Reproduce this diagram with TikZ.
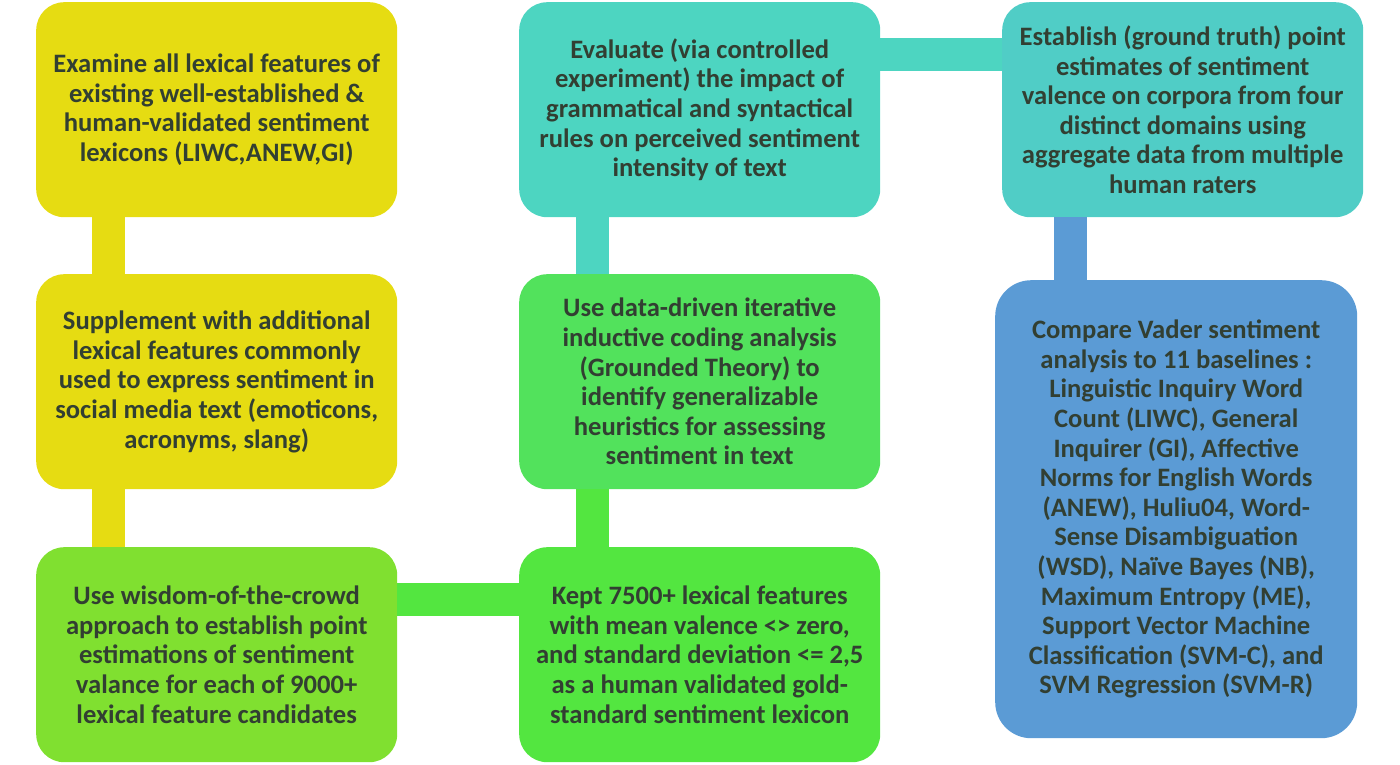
\documentclass[tikz,border=0pt]{standalone}
\usepackage{fontspec}
\setmainfont{Carlito}
\definecolor{ycol}{HTML}{E6DC12}
\definecolor{ygcol}{HTML}{80E030}
\definecolor{gcol}{HTML}{53E640}
\definecolor{gtcol}{HTML}{52E25C}
\definecolor{tcol}{HTML}{4DD5C1}
\definecolor{tbcol}{HTML}{50CDC6}
\definecolor{bcol}{HTML}{5B9BD5}
\definecolor{txtcol}{HTML}{323F32}
\tikzset{
  box/.style={rectangle, rounded corners=28pt, inner sep=0pt, anchor=north west,
    minimum width=361pt, minimum height=215pt, align=center, text=txtcol,
    font=\fontsize{26.6}{29.6}\selectfont\bfseries},
  conn/.style={line width=33pt, line cap=butt}
}
\begin{document}
\begin{tikzpicture}[x=1pt,y=-1pt]
\useasboundingbox (0,0) rectangle (1400,764);
\node[box, fill=ycol] (A) at (36,2) {Examine all lexical features of\\existing well-established \&\\human-validated sentiment\\lexicons (LIWC,ANEW,GI)};
\node[box, fill=ycol] (B) at (36,274) {Supplement with additional\\lexical features commonly\\used to express sentiment in\\social media text (emoticons,\\acronyms, slang)};
\node[box, fill=ygcol] (C) at (36,547) {Use wisdom-of-the-crowd\\approach to establish point\\estimations of sentiment\\valance for each of 9000+\\lexical feature candidates};
\node[box, fill=gcol] (D) at (519,547) {Kept 7500+ lexical features\\with mean valence <> zero,\\and standard deviation <= 2,5\\as a human validated gold-\\standard sentiment lexicon};
\node[box, fill=gtcol] (E) at (519,274) {Use data-driven iterative\\inductive coding analysis\\(Grounded Theory) to\\identify generalizable\\heuristics for assessing\\sentiment in text};
\node[box, fill=tcol] (F) at (519,2) {Evaluate (via controlled\\experiment) the impact of\\grammatical and syntactical\\rules on perceived sentiment\\intensity of text};
\node[box, fill=tbcol] (G) at (1002,2) {Establish (ground truth) point\\estimates of sentiment\\valence on corpora from four\\distinct domains using\\aggregate data from multiple\\human raters};
\node[box, fill=bcol, rounded corners=36pt, minimum width=362pt, minimum height=458pt] (H) at (995,280) {Compare Vader sentiment\\analysis to 11 baselines :\\Linguistic Inquiry Word\\Count (LIWC), General\\Inquirer (GI), Affective\\Norms for English Words\\(ANEW), Huliu04, Word-\\Sense Disambiguation\\(WSD), Naïve Bayes (NB),\\Maximum Entropy (ME),\\Support Vector Machine\\Classification (SVM-C), and\\SVM Regression (SVM-R)};
\draw[conn, ycol] ([xshift=72.5pt]A.south west) -- ([xshift=72.5pt]B.north west);
\draw[conn, ycol] ([xshift=72.5pt]B.south west) -- ([xshift=72.5pt]C.north west);
\draw[conn, gcol] ([yshift=-52pt]C.north east) -- ([yshift=-52pt]D.north west);
\draw[conn, gcol] ([xshift=73pt]D.north west) -- ([xshift=73pt]E.south west);
\draw[conn, tcol] ([xshift=73pt]E.north west) -- ([xshift=73pt]F.south west);
\draw[conn, tcol] ([yshift=-52pt]F.north east) -- ([yshift=-52pt]G.north west);
\draw[conn, bcol] ([xshift=68.5pt]G.south west) -- ([xshift=68.5pt]G.south west |- H.north);
\end{tikzpicture}
\end{document}
